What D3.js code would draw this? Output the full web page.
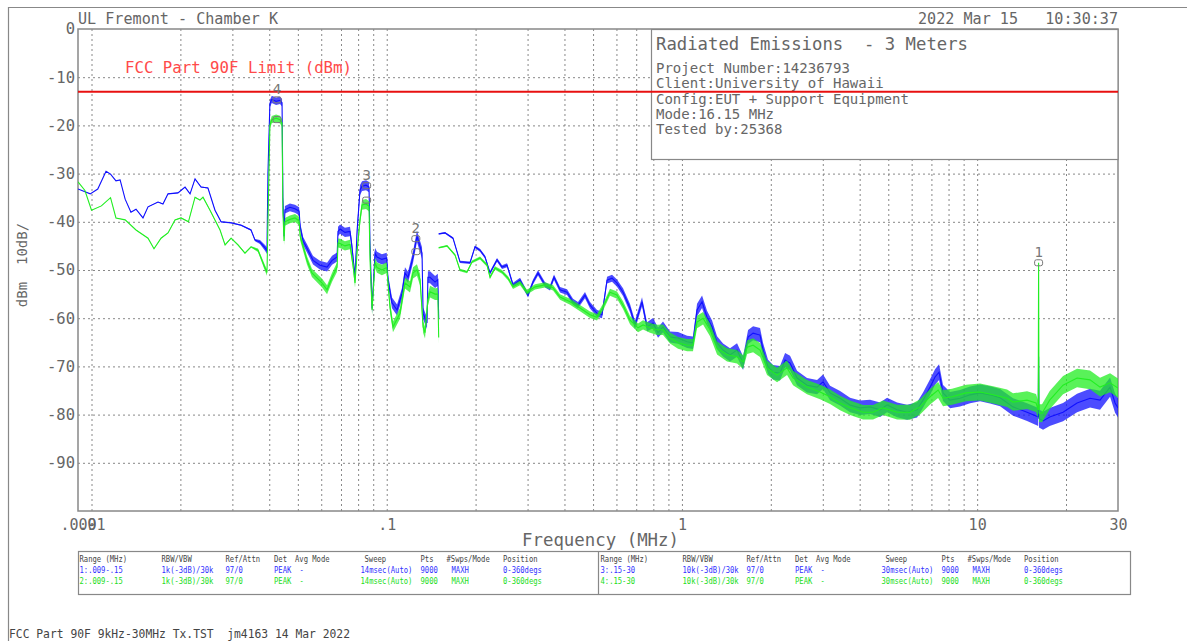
<!DOCTYPE html>
<html>
<head>
<meta charset="utf-8">
<script src="https://cdn.jsdelivr.net/npm/d3@7"></script>
<style>
  body { margin: 0; background: #fff; }
  svg { display: block; }
  text { font-family: 'DejaVu Sans Mono', monospace; white-space: pre; }
</style>
</head>
<body>
<svg id="chart" width="1187" height="641"></svg>
<script>
// trace 1 (blue) and 2 (green): .009 - .15 MHz
const trace1Freq = [0.009, 0.0099, 0.0105, 0.0112, 0.0116, 0.0121, 0.0125, 0.0130, 0.0136, 0.01415, 0.01494, 0.01554, 0.0168, 0.01746, 0.01816, 0.01963, 0.02074, 0.02157, 0.02242, 0.0235, 0.0248, 0.0262, 0.02747, 0.0297, 0.0321, 0.0347, 0.0358, 0.0372, 0.0387, 0.0393, 0.0396, 0.0402, 0.0408, 0.0422, 0.0435, 0.0442, 0.0445, 0.0449, 0.0452, 0.0470, 0.0489, 0.0505, 0.0509, 0.0521, 0.0537, 0.0563, 0.0594, 0.0628, 0.0653, 0.0679, 0.0684, 0.0695, 0.0722, 0.0751, 0.0762, 0.0781, 0.0794, 0.0812, 0.0825, 0.0851, 0.0871, 0.0878, 0.0892, 0.0913, 0.0927, 0.0963, 0.1000, 0.101, 0.1042, 0.1084, 0.1127, 0.1153, 0.1181, 0.1228, 0.1266, 0.1286, 0.1317, 0.1328, 0.1369, 0.1379, 0.1402, 0.1458, 0.1490, 0.1500];
const trace1Level = [-33.2, -34.2, -33.2, -29.5, -30.1, -31.5, -31.3, -35.3, -38.0, -37.4, -39.2, -36.9, -35.9, -36.3, -34.2, -34.0, -32.8, -34.2, -31.1, -32.8, -33.0, -37.6, -40.0, -40.2, -40.7, -41.7, -43.8, -44.2, -45.4, -46.0, -30.0, -15.5, -14.6, -15.0, -14.8, -15.3, -35.0, -43.0, -37.5, -37.0, -37.3, -37.8, -41.0, -44.0, -45.5, -48.0, -49.0, -49.4, -48.0, -47.3, -42.0, -41.5, -42.2, -42.0, -45.0, -51.5, -41.7, -33.4, -32.6, -32.4, -32.8, -45.0, -58.0, -46.5, -47.3, -47.8, -47.5, -52.0, -56.8, -58.3, -54.8, -50.6, -51.5, -47.3, -43.0, -44.4, -46.5, -59.0, -61.0, -51.5, -51.5, -52.5, -52.0, -60.0];

const trace2Freq = [0.009, 0.0095, 0.0100, 0.0108, 0.0116, 0.0121, 0.0130, 0.01415, 0.01554, 0.01628, 0.0172, 0.01816, 0.01918, 0.0201, 0.0213, 0.02242, 0.0233, 0.02386, 0.0252, 0.02725, 0.02834, 0.0297, 0.03135, 0.0331, 0.0347, 0.03664, 0.0387, 0.0393, 0.0396, 0.0402, 0.0408, 0.0422, 0.0435, 0.0442, 0.0445, 0.0449, 0.0452, 0.0470, 0.0489, 0.0505, 0.0509, 0.0537, 0.0558, 0.0604, 0.0628, 0.0653, 0.0679, 0.0684, 0.0695, 0.0722, 0.0751, 0.0769, 0.0781, 0.0794, 0.0812, 0.0825, 0.0851, 0.0871, 0.0878, 0.0892, 0.0913, 0.0927, 0.0963, 0.1000, 0.1026, 0.1050, 0.1109, 0.1153, 0.1199, 0.1228, 0.1266, 0.1297, 0.1328, 0.1348, 0.1379, 0.1402, 0.1458, 0.1490, 0.1500];
const trace2Level = [-31.7, -33.5, -37.6, -36.7, -35.0, -39.2, -39.6, -41.7, -43.4, -45.6, -43.4, -42.3, -39.6, -39.2, -40.0, -34.9, -35.5, -34.9, -37.6, -41.7, -44.8, -43.4, -44.8, -46.5, -45.2, -45.9, -49.6, -50.5, -40.0, -20.0, -18.8, -18.5, -18.8, -19.5, -38.0, -44.0, -40.0, -39.5, -39.2, -39.8, -43.0, -48.0, -50.6, -52.7, -54.1, -51.5, -49.4, -44.4, -44.5, -45.0, -44.7, -49.0, -52.7, -45.9, -39.6, -36.5, -36.3, -36.8, -48.0, -58.3, -48.5, -49.5, -50.0, -49.5, -57.7, -61.8, -59.0, -52.7, -53.5, -50.6, -50.0, -52.0, -61.8, -63.0, -56.2, -54.5, -55.0, -55.0, -64.0];

// trace 3 (blue) and 4 (green): .15 - 30 MHz
const trace3Freq = [0.15, 0.1576, 0.1677, 0.1771, 0.1915, 0.1991, 0.207, 0.2153, 0.2238, 0.2364, 0.2458, 0.2556, 0.2678, 0.2829, 0.3010, 0.3130, 0.3255, 0.3439, 0.3574, 0.3687, 0.3864, 0.4081, 0.4276, 0.4446, 0.4695, 0.4882, 0.5157, 0.5362, 0.5576, 0.5798, 0.6026, 0.6316, 0.6671, 0.6934, 0.7325, 0.7616, 0.7980, 0.8299, 0.8628, 0.9113, 0.9700, 1.041, 1.090, 1.125, 1.170, 1.216, 1.265, 1.315, 1.378, 1.455, 1.537, 1.611, 1.675, 1.742, 1.839, 1.883, 1.957, 2.035, 2.149, 2.236, 2.324, 2.454, 2.653, 2.869, 3.006, 3.175, 3.433, 3.711, 4.012, 4.338, 4.690, 4.953, 5.355, 5.789, 6.259, 6.558, 6.926, 7.201, 7.43, 7.664, 8.095, 8.752, 9.462, 10.23, 11.06, 11.96, 13.23, 14.76, 15.83, 16.10, 16.15, 16.20, 16.72, 17.61, 19.54, 21.8, 24.12, 26.08, 28.2, 29.32, 30];
const trace3Level = [-42.5, -42.3, -43.4, -48.3, -48.5, -45.2, -45.9, -47.3, -50.6, -47.9, -49.4, -49.0, -53.1, -52.1, -55.2, -52.5, -50.6, -53.1, -53.7, -51.5, -54.1, -54.6, -56.6, -57.3, -55.2, -57.3, -59.0, -59.3, -52.1, -51.7, -52.7, -54.6, -57.9, -61.4, -56.6, -61.8, -61.0, -63.0, -61.8, -63.9, -64.1, -64.9, -65.1, -58.3, -56.6, -59.8, -61.8, -65.1, -66.6, -67.6, -66.6, -69.3, -63.9, -63.1, -63.5, -66.6, -70.1, -71.2, -71.4, -68.7, -69.3, -72.4, -73.9, -74.3, -73.2, -75.5, -76.6, -78.0, -78.6, -78.4, -79.0, -78.0, -79.0, -79.5, -79.0, -77.0, -74.3, -72.2, -71.2, -75.5, -77.0, -76.6, -75.9, -75.5, -75.9, -76.5, -78.4, -79.5, -80.3, -80.5, -68.0, -80.8, -81.3, -80.5, -79.5, -77.6, -76.6, -77.0, -74.3, -77.6, -78.6];

const trace4Freq = [0.15, 0.1601, 0.1704, 0.1771, 0.1871, 0.1945, 0.207, 0.2187, 0.2238, 0.2327, 0.2458, 0.2576, 0.2678, 0.2829, 0.2987, 0.318, 0.3439, 0.3659, 0.3864, 0.4178, 0.4517, 0.4882, 0.5157, 0.5404, 0.5706, 0.6026, 0.6316, 0.6671, 0.7099, 0.7383, 0.7796, 0.8235, 0.8628, 0.9113, 0.9700, 1.041, 1.090, 1.125, 1.179, 1.245, 1.315, 1.422, 1.537, 1.611, 1.663, 1.742, 1.839, 1.942, 2.100, 2.270, 2.379, 2.653, 2.937, 3.175, 3.433, 3.711, 4.107, 4.440, 4.800, 5.355, 5.927, 6.408, 6.926, 7.375, 7.664, 8.222, 9.172, 10.23, 11.32, 12.63, 13.23, 14.76, 15.83, 16.10, 16.15, 16.20, 16.59, 17.61, 19.54, 21.8, 24.12, 26.08, 28.2, 30];
const trace4Level = [-45.4, -45.0, -46.9, -50.0, -50.4, -48.3, -47.5, -49.0, -51.5, -49.6, -50.4, -51.7, -53.5, -52.7, -54.6, -53.5, -53.1, -53.7, -55.6, -56.6, -57.9, -59.3, -59.8, -57.7, -54.6, -55.2, -57.3, -60.4, -62.0, -61.4, -62.0, -62.4, -62.4, -64.1, -65.1, -65.6, -65.6, -60.8, -60.0, -62.4, -66.2, -67.6, -68.0, -69.1, -66.0, -65.6, -66.6, -70.3, -71.8, -70.3, -72.4, -74.3, -75.3, -76.3, -77.6, -78.6, -79.5, -79.5, -78.6, -79.5, -79.5, -78.4, -76.3, -74.9, -76.6, -76.3, -75.5, -75.3, -75.9, -76.6, -77.4, -77.0, -77.6, -79.0, -48.5, -79.7, -79.7, -77.0, -73.9, -72.4, -72.8, -74.3, -73.4, -74.5];

// thickness of the noisy trace (dB, full width) along frequency
const lowNoiseFreq = [0.009, 0.035, 0.04, 0.15];
const lowNoiseDb = [0, 0.3, 1.5, 2.5];
const highNoiseFreq = [0.15, 0.3, 0.6, 1, 2, 5, 10, 30];
const highNoiseDb = [0.3, 1, 1.5, 2.5, 3, 3, 3.5, 4];

const limitLevel = -13;
const yTicks = [0, -10, -20, -30, -40, -50, -60, -70, -80, -90];
const xTickValues = [0.009, 0.01, 0.1, 1, 10, 30];
const xTickLabels = ['.009', '.01', '.1', '1', '10', '30'];
const xGrid = [0.01, 0.02, 0.03, 0.04, 0.05, 0.06, 0.07, 0.08, 0.09, 0.1, 0.2, 0.3, 0.4, 0.5, 0.6, 0.7, 0.8, 0.9, 1, 2, 3, 4, 5, 6, 7, 8, 9, 10, 20];

const markerName = ['1', '2', '3', '4'];
const markerFreq = [16.15, 0.1255, 0.0855, 0.0425];
const markerBlue = [null, -43.5, -32.5, -14.7];
const markerGreen = [-48.5, -46.2, -35.5, -18.8];

const infoTitle = 'Radiated Emissions  - 3 Meters';
const infoLines = ['Project Number:14236793', 'Client:University of Hawaii', 'Config:EUT + Support Equipment', 'Mode:16.15 MHz', 'Tested by:25368'];

const tableHeaders = ['Range (MHz)', 'RBW/VBW', 'Ref/Attn', 'Det', 'Avg Mode', 'Sweep', 'Pts', '#Swps/Mode', 'Position'];
const tableLeftRows = [
  ['1:.009-.15', '1k(-3dB)/30k', '97/0', 'PEAK', '-', '14msec(Auto)', '9000', 'MAXH', '0-360degs'],
  ['2:.009-.15', '1k(-3dB)/30k', '97/0', 'PEAK', '-', '14msec(Auto)', '9000', 'MAXH', '0-360degs']
];
const tableRightRows = [
  ['3:.15-30', '10k(-3dB)/30k', '97/0', 'PEAK', '-', '30msec(Auto)', '9000', 'MAXH', '0-360degs'],
  ['4:.15-30', '10k(-3dB)/30k', '97/0', 'PEAK', '-', '30msec(Auto)', '9000', 'MAXH', '0-360degs']
];

const BLUE = '#1010ff';
const GREEN = '#22ee22';
const GREY = '#666';

const svg = d3.select('#chart');
const plot = {left: 78, right: 1118, top: 29, bottom: 511};

const x = d3.scaleLog().domain([0.009, 30]).range([plot.left, plot.right]);
const y = d3.scaleLinear().domain([-100, 0]).range([plot.bottom, plot.top]);

// outer page frame
svg.append('path')
  .attr('d', 'M8.5,641V7.5H1187')
  .attr('fill', 'none').attr('stroke', '#888').attr('stroke-width', 1.2);

// grid
svg.append('g')
  .attr('transform', `translate(0,${plot.bottom})`)
  .call(d3.axisBottom(x).tickValues(xGrid).tickSize(-(plot.bottom - plot.top)).tickFormat(''))
  .call(g => g.select('.domain').remove())
  .call(g => g.selectAll('line').attr('stroke', '#888').attr('stroke-dasharray', '2,3'));

svg.append('g')
  .attr('transform', `translate(${plot.left},0)`)
  .call(d3.axisLeft(y).tickValues(yTicks.slice(1)).tickSize(-(plot.right - plot.left)).tickFormat(''))
  .call(g => g.select('.domain').remove())
  .call(g => g.selectAll('line').attr('stroke', '#888').attr('stroke-dasharray', '2,3'));

// plot frame
svg.append('rect')
  .attr('x', plot.left).attr('y', plot.top)
  .attr('width', plot.right - plot.left).attr('height', plot.bottom - plot.top)
  .attr('fill', 'none').attr('stroke', '#888').attr('stroke-width', 1.5);

// axis labels
svg.append('g')
  .attr('transform', `translate(${plot.left},0)`)
  .call(d3.axisLeft(y).tickValues(yTicks).tickSize(0).tickPadding(3).tickFormat(d => String(d)))
  .call(g => g.select('.domain').remove())
  .call(g => g.selectAll('text').attr('font-family', 'DejaVu Sans Mono').attr('font-size', 15.5).attr('fill', GREY));

svg.append('g')
  .attr('transform', `translate(0,${plot.bottom})`)
  .call(d3.axisBottom(x).tickValues(xTickValues).tickSize(0).tickPadding(8)
    .tickFormat((d, i) => xTickLabels[i]))
  .call(g => g.select('.domain').remove())
  .call(g => g.selectAll('text').attr('font-family', 'DejaVu Sans Mono').attr('font-size', 15).attr('fill', GREY));

svg.append('text')
  .attr('x', 522).attr('y', 546)
  .attr('font-size', 17).attr('fill', GREY)
  .attr('textLength', 157).attr('lengthAdjust', 'spacingAndGlyphs')
  .text('Frequency (MHz)');

svg.append('text')
  .attr('transform', 'translate(27,265) rotate(-90)')
  .attr('text-anchor', 'middle')
  .attr('font-size', 14).attr('fill', GREY)
  .text('dBm  10dB/');

// header texts
svg.append('text')
  .attr('x', 78).attr('y', 24).attr('font-size', 15).attr('fill', GREY)
  .attr('textLength', 200).attr('lengthAdjust', 'spacingAndGlyphs')
  .text('UL Fremont - Chamber K');
svg.append('text')
  .attr('x', 918).attr('y', 24).attr('font-size', 15).attr('fill', GREY)
  .attr('textLength', 200).attr('lengthAdjust', 'spacingAndGlyphs')
  .text('2022 Mar 15   10:30:37');

// traces
const clip = svg.append('clipPath').attr('id', 'plotClip');
clip.append('rect')
  .attr('x', plot.left).attr('y', plot.top)
  .attr('width', plot.right - plot.left).attr('height', plot.bottom - plot.top);
const traces = svg.append('g').attr('clip-path', 'url(#plotClip)');

function drawTrace(freqs, levels, noiseFreq, noiseDb, colour) {
  const noise = d3.scaleLog().domain(noiseFreq).range(noiseDb).clamp(true);
  const pts = freqs.map((f, i) => ({f: f, v: levels[i], s: noise(f)}));
  traces.append('path')
    .datum(pts)
    .attr('fill', colour).attr('fill-opacity', 0.75)
    .attr('d', d3.area()
      .x(d => x(d.f))
      .y0(d => y(d.v - d.s / 2))
      .y1(d => y(d.v + d.s / 2)));
  traces.append('path')
    .datum(pts)
    .attr('fill', 'none').attr('stroke', colour).attr('stroke-width', 1.1)
    .attr('d', d3.line().x(d => x(d.f)).y(d => y(d.v)));
}

drawTrace(trace1Freq, trace1Level, lowNoiseFreq, lowNoiseDb, BLUE);
drawTrace(trace3Freq, trace3Level, highNoiseFreq, highNoiseDb, BLUE);
drawTrace(trace2Freq, trace2Level, lowNoiseFreq, lowNoiseDb, GREEN);
drawTrace(trace4Freq, trace4Level, highNoiseFreq, highNoiseDb, GREEN);

// info box
svg.append('rect')
  .attr('x', 651.5).attr('y', 29.5).attr('width', 466.5).attr('height', 130)
  .attr('fill', '#fff').attr('stroke', '#888').attr('stroke-width', 1.2);
svg.append('text')
  .attr('x', 656).attr('y', 50).attr('font-size', 17).attr('fill', GREY)
  .attr('textLength', 312).attr('lengthAdjust', 'spacingAndGlyphs')
  .text(infoTitle);
svg.append('g').selectAll('text')
  .data(infoLines)
  .join('text')
  .attr('x', 656).attr('y', (d, i) => 73 + i * 15.3)
  .attr('font-size', 14).attr('fill', GREY)
  .text(d => d);

// limit line
svg.append('line')
  .attr('x1', plot.left).attr('x2', plot.right)
  .attr('y1', y(limitLevel)).attr('y2', y(limitLevel))
  .attr('stroke', '#e81010').attr('stroke-width', 2);
svg.append('text')
  .attr('x', 125).attr('y', 73).attr('font-size', 15.5).attr('fill', '#ff4a4a')
  .attr('textLength', 227).attr('lengthAdjust', 'spacingAndGlyphs')
  .text('FCC Part 90F Limit (dBm)');

// markers
const markers = markerName.map((n, i) => ({n: n, f: markerFreq[i], b: markerBlue[i], g: markerGreen[i]}));
const mg = svg.append('g');
markers.forEach(m => {
  [m.b, m.g].filter(v => v !== null).forEach(v => {
    mg.append('rect')
      .attr('x', x(m.f) - 4).attr('y', y(v) - 3)
      .attr('width', 8).attr('height', 6).attr('rx', 2)
      .attr('fill', 'none').attr('stroke', '#777').attr('stroke-width', 1);
  });
  const top = m.b !== null ? Math.max(m.b, m.g) : m.g;
  mg.append('text')
    .attr('x', x(m.f)).attr('y', y(top) - 6)
    .attr('text-anchor', 'middle').attr('font-size', 14).attr('fill', '#777')
    .text(m.n);
});

// settings table
const table = svg.append('g');
table.append('rect')
  .attr('x', 78.5).attr('y', 551.5).attr('width', 1052).attr('height', 43)
  .attr('fill', 'none').attr('stroke', '#888').attr('stroke-width', 1.2);
table.append('line')
  .attr('x1', 598.5).attr('x2', 598.5).attr('y1', 551.5).attr('y2', 594.5)
  .attr('stroke', '#888').attr('stroke-width', 1.2);

const headCol = [0, 82, 146, 194.5, 215.5, 285, 341, 367, 423.5];
const cellCol = [0, 82, 146, 194.5, 220, 281, 341, 372, 423.5];
const rowY = [561.5, 572.5, 583.5];

function tableHalf(x0, rows) {
  tableHeaders.forEach((h, c) => {
    table.append('text')
      .attr('transform', `translate(${x0 + headCol[c]},${rowY[0]}) scale(0.8,1)`)
      .attr('font-size', 9).attr('fill', '#444').text(h);
  });
  rows.forEach((row, r) => {
    row.forEach((cell, c) => {
      table.append('text')
        .attr('transform', `translate(${x0 + cellCol[c]},${rowY[r + 1]}) scale(0.8,1)`)
        .attr('font-size', 9).attr('fill', r === 0 ? '#3030ff' : '#22dd22').text(cell);
    });
  });
}
tableHalf(79.5, tableLeftRows);
tableHalf(600.5, tableRightRows);

// footer
svg.append('text')
  .attr('x', 9).attr('y', 638).attr('font-size', 12.5).attr('fill', '#444')
  .attr('textLength', 341).attr('lengthAdjust', 'spacingAndGlyphs')
  .text('FCC Part 90F 9kHz-30MHz Tx.TST  jm4163 14 Mar 2022');
</script>
</body>
</html>
